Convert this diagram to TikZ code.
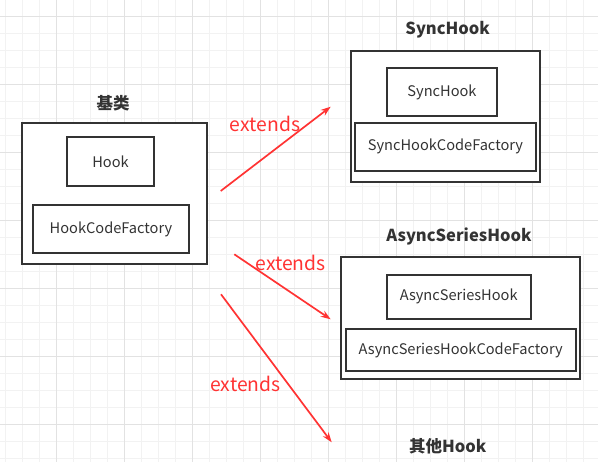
\documentclass[tikz,border=0pt]{standalone}
\usepackage{fontspec}
\setmainfont{Noto Sans CJK SC}
\usetikzlibrary{arrows.meta}
\definecolor{ink}{HTML}{333333}
\definecolor{arrowred}{HTML}{FF3333}
\definecolor{gridminor}{HTML}{F2F2F2}
\definecolor{gridmajor}{HTML}{E2E2E2}
\begin{document}
\begin{tikzpicture}[x=1pt,y=-1pt,
  minorline/.style={draw=gridminor,line width=0.8pt},
  majorline/.style={draw=gridmajor,line width=0.8pt},
  outerbox/.style={draw=ink,line width=1.8pt,fill=white,inner sep=0pt},
  innerbox/.style={draw=ink,line width=1.8pt,fill=white,inner sep=0pt,text=ink,font=\fontsize{14.6}{17}\selectfont},
  titletext/.style={text=ink,font=\fontsize{16.5}{19}\selectfont\bfseries,inner sep=0pt},
  extarrow/.style={draw=arrowred,line width=1.7pt,-{Stealth[length=10pt,width=7pt]}},
  extlabel/.style={text=arrowred,font=\fontsize{19.3}{22}\selectfont,inner sep=0pt}]
\useasboundingbox (0,0) rectangle (598,462);
\fill[white] (0,0) rectangle (598,462);
% grid
\foreach \i in {0,...,35} \draw[minorline] ({5.7+17*\i},0) -- ({5.7+17*\i},462);
\foreach \i in {0,...,27} \draw[minorline] (0,{16.7+17*\i}) -- (598,{16.7+17*\i});
\foreach \i in {0,...,7} \draw[majorline] ({56.7+68*\i},0) -- ({56.7+68*\i},462);
\foreach \i in {0,...,6} \draw[majorline] (0,{16.7+68*\i}) -- (598,{16.7+68*\i});
% base class
\node[titletext] (t1) at (113,103) {基类};
\node[outerbox,minimum width=185pt,minimum height=141.3pt] (o1) at (114.2,193.3) {};
\node[innerbox,minimum width=87.6pt,minimum height=48.7pt] (hook) at (110.5,161.7) {Hook};
\node[innerbox,minimum width=156.6pt,minimum height=48.6pt] (hcf) at (111,229) {HookCodeFactory};
% SyncHook
\node[titletext] (t2) at (447.7,29.3) {SyncHook};
\node[outerbox,minimum width=189.3pt,minimum height=131.3pt] (o2) at (445.3,116.3) {};
\node[innerbox,minimum width=110.6pt,minimum height=47.7pt] (sh) at (442,92.2) {SyncHook};
\node[innerbox,minimum width=181pt,minimum height=48pt] (shcf) at (445.5,146.7) {SyncHookCodeFactory};
% AsyncSeriesHook
\node[titletext] (t3) at (459,236) {AsyncSeriesHook};
\node[outerbox,minimum width=239.3pt,minimum height=121.7pt] (o3) at (460.3,318.2) {};
\node[innerbox,minimum width=144pt,minimum height=43.7pt] (ash) at (458.7,296.8) {AsyncSeriesHook};
\node[innerbox,minimum width=230pt,minimum height=42pt] (ashcf) at (460.7,350) {AsyncSeriesHookCodeFactory};
% other
\node[titletext] (t4) at (447.7,446) {其他Hook};
% arrows
\coordinate (s1) at (220.7,191);
\coordinate (e1) at (330.7,106.7);
\coordinate (s2) at (234.3,254.3);
\coordinate (e2) at (330.7,319.3);
\coordinate (s3) at (221,294.3);
\coordinate (e3) at (331.7,442.3);
\draw[extarrow] (s1) -- (e1);
\draw[extarrow] (s2) -- (e2);
\draw[extarrow] (s3) -- (e3);
\node[extlabel] (l1) at (265,124) {extends};
\node[extlabel] (l2) at (290.5,263) {extends};
\node[extlabel] (l3) at (245.5,384) {extends};
\end{tikzpicture}
\end{document}
